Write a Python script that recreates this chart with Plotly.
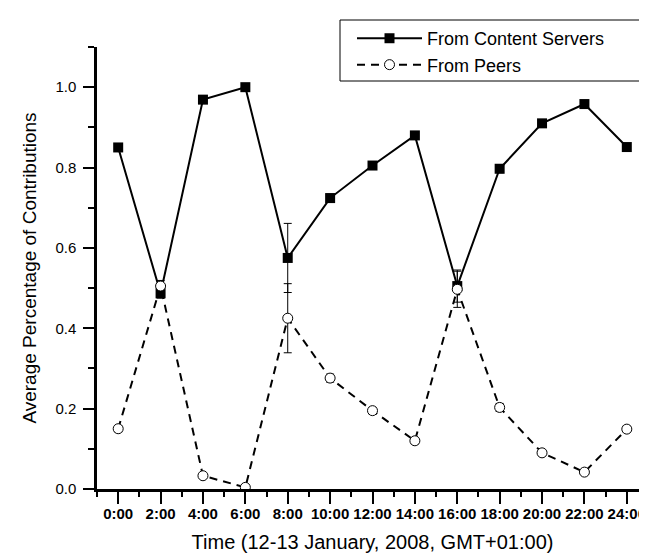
import plotly.graph_objects as go

hours = [0, 2, 4, 6, 8, 10, 12, 14, 16, 18, 20, 22, 24]
hour_labels = ["0:00", "2:00", "4:00", "6:00", "8:00", "10:00", "12:00",
               "14:00", "16:00", "18:00", "20:00", "22:00", "24:00"]
servers = [0.85, 0.487, 0.969, 1.0, 0.575, 0.724, 0.805, 0.88, 0.505, 0.797, 0.91, 0.958, 0.851]
servers_err = [0.008, 0.012, 0.006, 0.003, 0.086, 0.01, 0.008, 0.008, 0.04, 0.01, 0.008, 0.006, 0.008]
peers = [0.15, 0.505, 0.033, 0.004, 0.425, 0.276, 0.195, 0.12, 0.497, 0.203, 0.09, 0.042, 0.149]
peers_err = [0.008, 0.014, 0.006, 0.003, 0.086, 0.01, 0.008, 0.008, 0.045, 0.01, 0.008, 0.006, 0.008]
y_ticks = [0.0, 0.2, 0.4, 0.6, 0.8, 1.0]
y_tick_labels = ["0.0", "0.2", "0.4", "0.6", "0.8", "1.0"]

FONT = "Liberation Sans, Arial, Helvetica, sans-serif"

fig = go.Figure()
fig.add_trace(go.Scatter(
    x=hours, y=servers, name="From Content Servers", mode="lines+markers",
    line=dict(color="black", width=2),
    marker=dict(symbol="square", size=10, color="black", line=dict(width=0)),
    error_y=dict(type="data", array=servers_err, color="black", thickness=1, width=4),
))
fig.add_trace(go.Scatter(
    x=hours, y=peers, name="From Peers", mode="lines+markers",
    line=dict(color="black", width=2, dash="8px,6px"),
    marker=dict(symbol="circle", size=10, color="white", line=dict(color="black", width=1)),
    error_y=dict(type="data", array=peers_err, color="black", thickness=1, width=4),
))

fig.update_layout(
    width=647, height=555,
    margin=dict(l=89, r=7, t=39, b=74),
    paper_bgcolor="white", plot_bgcolor="white",
    font=dict(family=FONT, color="black"),
    showlegend=True,
    legend=dict(
        x=(344 - 89) / 551, y=1.061, xanchor="left", yanchor="top",
        bgcolor="rgba(0,0,0,0)", borderwidth=0,
        font=dict(size=18, family=FONT, color="black"),
        itemwidth=65, tracegroupgap=0,
    ),
    shapes=[dict(type="rect", xref="paper", yref="paper",
                 x0=(332 - 89) / 551, x1=(645 - 89) / 551,
                 y0=(481 - 73) / 442, y1=(481 - 12) / 442,
                 line=dict(color="black", width=1), fillcolor="rgba(0,0,0,0)")],
)

fig.update_xaxes(
    range=[-1, 25], tickvals=hours, ticktext=hour_labels,
    showgrid=False, zeroline=False, showline=True, linecolor="black", linewidth=2.5,
    ticks="outside", ticklen=12, tickwidth=2, tickcolor="black",
    minor=dict(dtick=1, tick0=-1, ticks="outside", ticklen=5, tickwidth=2, tickcolor="black"),
    tickfont=dict(size=15, family=FONT, weight="bold", color="black"),
    ticklabelstandoff=-3,
    title=dict(text="Time (12-13 January, 2008, GMT+01:00)", font=dict(size=20, family=FONT), standoff=15),
)
fig.update_yaxes(
    range=[0, 1.1], tickvals=y_ticks, ticktext=y_tick_labels,
    showgrid=False, zeroline=False, showline=True, linecolor="black", linewidth=2.5,
    ticks="outside", ticklen=11, tickwidth=2, tickcolor="black",
    minor=dict(dtick=0.1, tick0=0, ticks="outside", ticklen=6, tickwidth=2, tickcolor="black"),
    tickfont=dict(size=15, family=FONT, color="black"),
    ticklabelstandoff=4,
    title=dict(text="Average Percentage of Contributions", font=dict(size=19, family=FONT), standoff=14),
)

fig.write_html("out.html")
